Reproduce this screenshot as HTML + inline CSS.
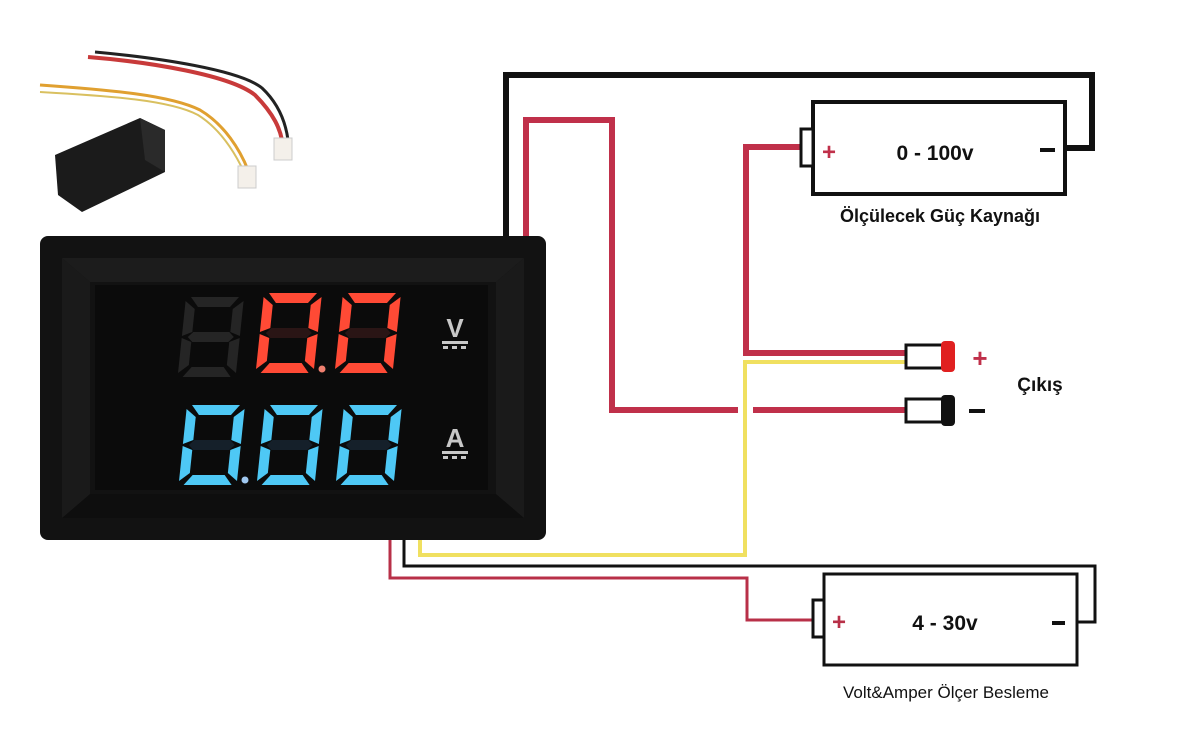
<!DOCTYPE html>
<html><head><meta charset="utf-8"><style>
html,body{margin:0;padding:0;background:#fff;}
svg{display:block;}
text{font-family:"Liberation Sans",sans-serif;}
</style></head><body>
<svg width="1200" height="747" viewBox="0 0 1200 747" xmlns="http://www.w3.org/2000/svg">
<defs>
<g id="seg0">
<polygon points="5,0 53,0 45,10 13,10"/>
<polygon points="13,70 45,70 53,80 5,80"/>
<polygon points="0,4 10,12 10,35 0,39"/>
<polygon points="0,41 10,45 10,68 0,76"/>
<polygon points="58,4 58,39 48,35 48,12"/>
<polygon points="58,41 58,76 48,68 48,45"/>
</g>
<polygon id="gseg" points="11,35 47,35 52,40 47,45 11,45 6,40"/>
<g id="seg8">
<use href="#seg0"/>
<use href="#gseg"/>
</g>
</defs>
<rect width="1200" height="747" fill="#fff"/>

<!-- top-left small module -->
<g>
<path d="M88,57 C150,62 230,75 255,95 C275,115 280,130 282,140" stroke="#c83a3a" stroke-width="4" fill="none"/>
<path d="M95,52 C160,58 240,70 262,88 C280,105 286,125 288,140" stroke="#222" stroke-width="3" fill="none"/>
<path d="M40,85 C110,90 170,95 200,110 C225,125 240,150 248,170" stroke="#e0a030" stroke-width="3" fill="none"/>
<path d="M40,92 C110,96 170,100 198,115 C222,130 236,155 244,172" stroke="#d9c060" stroke-width="2" fill="none"/>
<rect x="274" y="138" width="18" height="22" fill="#f4f0ea" stroke="#ccc"/>
<rect x="238" y="166" width="18" height="22" fill="#f4f0ea" stroke="#ccc"/>
<polygon points="55,155 140,118 165,130 165,172 82,212 58,195" fill="#1b1b1b"/>
<polygon points="140,118 165,130 165,172 145,160" fill="#2a2a2a"/>
</g>

<!-- wires -->
<g fill="none" stroke-linejoin="miter">
<polyline points="506,240 506,75 1092,75 1092,148 1065,148" stroke="#111" stroke-width="6"/>
<polyline points="526,240 526,120 612,120 612,410 738,410" stroke="#c0304a" stroke-width="6"/>
<line x1="753" y1="410" x2="905" y2="410" stroke="#c0304a" stroke-width="6"/>
<polyline points="800,147 746,147 746,353 905,353" stroke="#c0304a" stroke-width="6"/>
<polyline points="420,540 420,555 745,555 745,362 905,362" stroke="#f0e060" stroke-width="4"/>
<polyline points="404,540 404,566 1095,566 1095,622 1077,622" stroke="#111" stroke-width="3"/>
<polyline points="390,540 390,578 747,578 747,620 812,620" stroke="#b83048" stroke-width="3"/>
</g>

<!-- battery 1 -->
<rect x="813" y="102" width="252" height="92" fill="#fff" stroke="#111" stroke-width="4"/>
<rect x="801" y="129" width="12" height="37" fill="#fff" stroke="#111" stroke-width="3"/>
<text x="829" y="160" font-size="24" font-weight="bold" fill="#c0304a" text-anchor="middle">+</text>
<text x="935" y="160" font-size="21" font-weight="bold" fill="#111" text-anchor="middle">0 - 100v</text>
<rect x="1040" y="148" width="15" height="4" fill="#111"/>
<text x="940" y="222" font-size="18" font-weight="bold" fill="#111" text-anchor="middle">Ölçülecek Güç Kaynağı</text>

<!-- battery 2 -->
<rect x="824" y="574" width="253" height="91" fill="#fff" stroke="#111" stroke-width="3"/>
<rect x="813" y="600" width="11" height="37" fill="#fff" stroke="#111" stroke-width="3"/>
<text x="839" y="630" font-size="24" font-weight="bold" fill="#b83048" text-anchor="middle">+</text>
<text x="945" y="630" font-size="21" font-weight="bold" fill="#111" text-anchor="middle">4 - 30v</text>
<rect x="1052" y="621" width="13" height="4" fill="#111"/>
<text x="946" y="698" font-size="17" fill="#111" text-anchor="middle">Volt&amp;Amper Ölçer Besleme</text>

<!-- outputs -->
<rect x="906" y="345" width="37" height="23" fill="#fff" stroke="#111" stroke-width="3"/>
<rect x="941" y="341" width="14" height="31" rx="4" fill="#e02020"/>
<rect x="906" y="399" width="37" height="23" fill="#fff" stroke="#111" stroke-width="3"/>
<rect x="941" y="395" width="14" height="31" rx="4" fill="#111"/>
<text x="980" y="367" font-size="26" font-weight="bold" fill="#c0304a" text-anchor="middle">+</text>
<rect x="969" y="409" width="16" height="4" fill="#111"/>
<text x="1040" y="391" font-size="19" font-weight="bold" fill="#111" text-anchor="middle">Çıkış</text>

<!-- meter -->
<rect x="40" y="236" width="506" height="304" rx="8" fill="#121212"/>
<polygon points="62,258 524,258 496,282 90,282" fill="#1c1c1c"/>
<polygon points="62,518 524,518 496,494 90,494" fill="#0e0e0e"/>
<polygon points="62,258 90,282 90,494 62,518" fill="#1a1a1a"/>
<polygon points="524,258 496,282 496,494 524,518" fill="#1a1a1a"/>
<rect x="95" y="285" width="393" height="205" fill="#0b0b0b"/>

<g transform="translate(186,297) skewX(-6)" fill="#252525"><use href="#seg8"/></g>
<g transform="translate(264,293) skewX(-6)" fill="#ff4a35"><use href="#seg0"/></g>
<g transform="translate(264,293) skewX(-6)" fill="#2a1515"><use href="#gseg"/></g>
<g transform="translate(343,293) skewX(-6)" fill="#ff4a35"><use href="#seg0"/></g>
<g transform="translate(343,293) skewX(-6)" fill="#2a1515"><use href="#gseg"/></g>
<circle cx="322" cy="369" r="3.5" fill="#f08070"/>

<g transform="translate(187,405) skewX(-6)" fill="#4ec8f5"><use href="#seg0"/></g>
<g transform="translate(265,405) skewX(-6)" fill="#4ec8f5"><use href="#seg0"/></g>
<g transform="translate(344,405) skewX(-6)" fill="#4ec8f5"><use href="#seg0"/></g>
<g fill="#15202a">
<g transform="translate(187,405) skewX(-6)"><use href="#gseg"/></g>
<g transform="translate(265,405) skewX(-6)"><use href="#gseg"/></g>
<g transform="translate(344,405) skewX(-6)"><use href="#gseg"/></g>
</g>
<circle cx="245" cy="480" r="3.5" fill="#a0c8f0"/>

<text x="455" y="337" font-size="26" font-weight="bold" fill="#c8c8c8" text-anchor="middle">V</text>
<rect x="442" y="341" width="26" height="3" fill="#c8c8c8"/>
<rect x="443" y="346" width="5" height="3" fill="#c8c8c8"/><rect x="452" y="346" width="5" height="3" fill="#c8c8c8"/><rect x="461" y="346" width="5" height="3" fill="#c8c8c8"/>
<text x="455" y="447" font-size="26" font-weight="bold" fill="#c8c8c8" text-anchor="middle">A</text>
<rect x="442" y="451" width="26" height="3" fill="#c8c8c8"/>
<rect x="443" y="456" width="5" height="3" fill="#c8c8c8"/><rect x="452" y="456" width="5" height="3" fill="#c8c8c8"/><rect x="461" y="456" width="5" height="3" fill="#c8c8c8"/>
</svg>
</body></html>
